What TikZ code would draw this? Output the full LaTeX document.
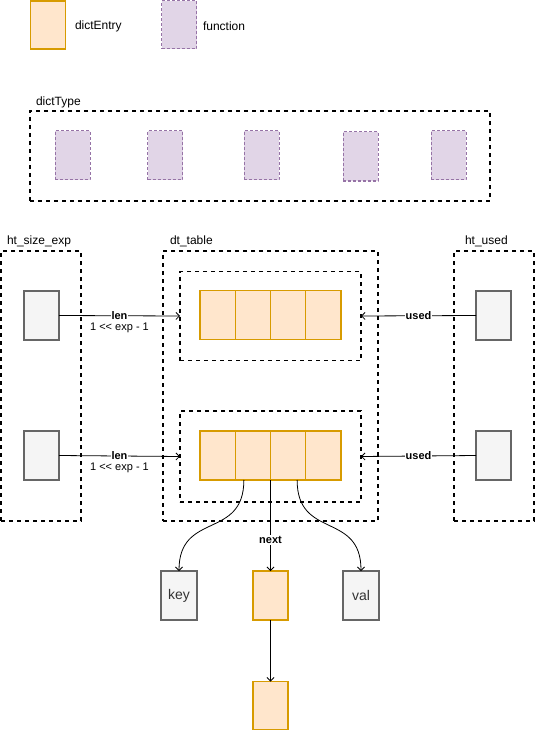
\documentclass[tikz,border=0pt]{standalone}
\usepackage{fontspec}
\setmainfont{Liberation Sans}
\newfontfamily\nolig{Liberation Sans}
\usetikzlibrary{arrows.meta}
\definecolor{entryD}{HTML}{D79B00}
\definecolor{entryF}{HTML}{FFE6CC}
\definecolor{funcD}{HTML}{9673A6}
\definecolor{funcF}{HTML}{E1D5E7}
\definecolor{grayD}{HTML}{666666}
\definecolor{grayF}{HTML}{F5F5F5}
\definecolor{grayT}{HTML}{333333}
\begin{document}
\begin{tikzpicture}[x=1pt,y=-1pt,
  every node/.style={inner sep=0pt,outer sep=0pt},
  entry/.style={draw=entryD,fill=entryF,line width=1.2pt,minimum width=35.25pt,minimum height=49pt},
  func/.style={draw=funcD,fill=funcF,line width=1pt,dash pattern=on 3pt off 2pt,minimum width=35pt,minimum height=49pt},
  gbox/.style={draw=grayD,fill=grayF,line width=1.5pt,minimum width=35pt,minimum height=49pt,text=grayT,font=\fontsize{14}{16}\selectfont},
  dbox/.style={draw=black,line width=1.5pt,dash pattern=on 4pt off 4pt},
  lbl/.style={font=\fontsize{12}{14}\selectfont,anchor=west},
  elbl/.style={font=\bfseries\fontsize{11}{13}\selectfont,fill=white,inner sep=1pt},
  arr/.style={-{Straight Barb[length=3.5pt,width=7pt]},line width=0.8pt}
]
\useasboundingbox (0,0) rectangle (535,730);
% legend
\node[entry,minimum width=35pt,minimum height=48pt] (le) at (48,25) {};
\node[lbl] (lte) at (75,26) {dictEntry};
\node[func,minimum height=48pt] (lf) at (179,25) {};
\node[lbl] (ltf) at (203,26) {function};
% dictType
\node[lbl] (dtl) at (36,102) {dictType};
\node[dbox,minimum width=460pt,minimum height=90pt] (dt) at (260,156) {};
\node[func] (f1) at (72.5,155.5) {};
\node[func] (f2) at (165,155.5) {};
\node[func] (f3) at (261.5,155.5) {};
\node[func] (f4) at (360.5,156.5) {};
\node[func] (f5) at (448.5,155.5) {};
% containers
\node[lbl] (hsel) at (7,241) {ht\_size\_exp};
\node[lbl] (dttl) at (170,241) {dt\_table};
\node[lbl] (hul) at (465,241) {ht\_used};
\node[dbox,minimum width=80pt,minimum height=270pt] (hse) at (41,386) {};
\node[dbox,minimum width=215pt,minimum height=270pt] (dtt) at (270.5,386) {};
\node[dbox,minimum width=80pt,minimum height=270pt] (hu) at (494,386) {};
\node[dbox,minimum width=181pt,minimum height=89pt] (in1) at (270.5,316) {};
\node[dbox,minimum width=181pt,minimum height=91pt] (in2) at (270.5,456.5) {};
% arrays
\node[entry] (a1c1) at (217.625,315) {};
\node[entry] (a1c2) at (252.875,315) {};
\node[entry] (a1c3) at (288.125,315) {};
\node[entry] (a1c4) at (323.375,315) {};
\node[entry] (a2c1) at (217.625,455.5) {};
\node[entry] (a2c2) at (252.875,455.5) {};
\node[entry] (a2c3) at (288.125,455.5) {};
\node[entry] (a2c4) at (323.375,455.5) {};
% gray boxes
\node[gbox] (g1) at (41.5,315.5) {};
\node[gbox] (g2) at (41.5,455.5) {};
\node[gbox] (r1) at (493.5,315.5) {};
\node[gbox] (r2) at (493.5,455.5) {};
% len arrows
\draw[arr] (g1.east) -- (in1.west)
  node[elbl,midway] (len1) {len}
  node[midway,below=7pt,font=\nolig\fontsize{11}{13}\selectfont] (exp1) {1 <\kern0pt< exp - 1};
\draw[arr] (g2.east) -- (in2.west)
  node[elbl,midway] (len2) {len}
  node[midway,below=7pt,font=\nolig\fontsize{11}{13}\selectfont] (exp2) {1 <\kern0pt< exp - 1};
% used arrows
\draw[arr] (r1.west) -- (in1.east) node[elbl,midway] (u1) {used};
\draw[arr] (r2.west) -- (in2.east) node[elbl,midway] (u2) {used};
% bottom
\node[gbox,minimum width=36pt] (key) at (179,595.5) {key};
\node[entry,minimum width=35pt] (nx) at (270.5,595.5) {};
\node[gbox,minimum width=36pt] (val) at (361,595.5) {val};
\node[entry,minimum width=35pt,minimum height=48pt] (nx2) at (270.5,705.5) {};
\draw[arr] ([xshift=-9pt]a2c2.south) .. controls +(0,60) and +(0,-60) .. (key.north);
\draw[arr] ([xshift=9pt]a2c3.south) .. controls +(0,60) and +(0,-60) .. (val.north);
\draw[arr] (a2c2.south east) -- (nx.north) node[elbl,pos=0.66] (nxl) {next};
\draw[arr] (nx.south) -- (nx2.north);
\end{tikzpicture}
\end{document}
